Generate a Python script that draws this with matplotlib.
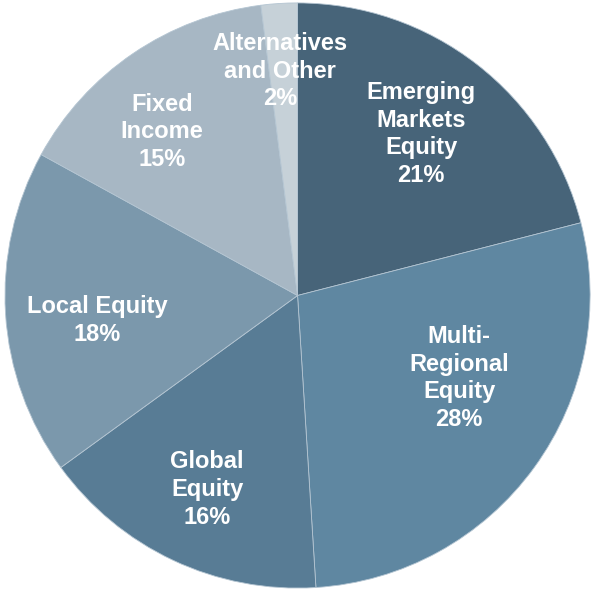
import matplotlib
matplotlib.use("Agg")
import matplotlib.pyplot as plt

# slice data, clockwise from 12 o'clock
labels = ["Emerging\nMarkets\nEquity", "Multi-\nRegional\nEquity", "Global\nEquity",
          "Local Equity", "Fixed\nIncome", "Alternatives\nand Other"]
shares = [21, 28, 16, 18, 15, 2]
colors = ["#476479", "#5f87a1", "#587c95", "#7b98ac", "#a7b7c4", "#c6d1d8"]

# label centres (pie units)
label_pos = [(0.422, 0.552), (0.552, -0.282), (-0.309, -0.662),
             (-0.685, -0.084), (-0.463, 0.559), (-0.060, 0.767)]

fig = plt.figure(figsize=(5.91, 5.91), dpi=100)
ax = fig.add_axes([0, 0, 1, 1])

ax.pie(shares, colors=colors, startangle=90, counterclock=False, radius=1,
       wedgeprops=dict(edgecolor="#b4c5d2", linewidth=0.6))

for lab, val, (x, y) in zip(labels, shares, label_pos):
    ax.text(x, y, f"{lab}\n{val}%", ha="center", va="center", color="white",
            fontsize=17, fontweight="bold", family="Liberation Sans", linespacing=1.27)

ax.set_xlim(-1.017, 1.003)
ax.set_ylim(-1.010, 1.010)
ax.set_aspect("auto")
ax.axis("off")

fig.savefig("out.png", dpi=100)
